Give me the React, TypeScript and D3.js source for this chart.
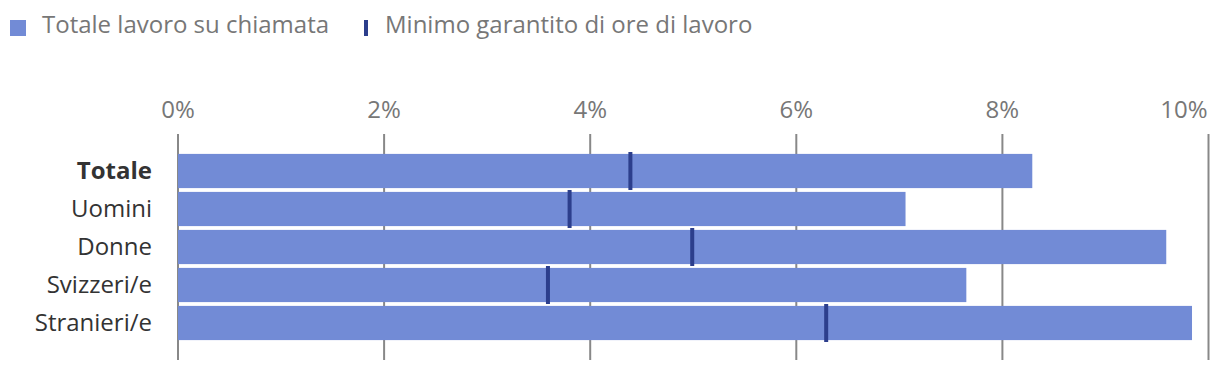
import React from 'react';
import { scaleLinear, scaleBand } from 'd3';

const categories = ['Totale', 'Uomini', 'Donne', 'Svizzeri/e', 'Stranieri/e'];
const totale = [8.29, 7.06, 9.59, 7.65, 9.84];
const minimo = [4.39, 3.8, 4.99, 3.59, 6.29];
const ticks = [0, 2, 4, 6, 8, 10];
const legendLabels = ['Totale lavoro su chiamata', 'Minimo garantito di ore di lavoro'];

const W = 1220;
const H = 372;
const font = '"Open Sans", "Noto Sans", sans-serif';
const fs = 24;
const barColor = '#728bd6';
const markColor = '#2c3e8c';

export default function App() {
  const x = scaleLinear().domain([0, 10]).range([178, 1208.5]);
  const y = scaleBand()
    .domain(categories)
    .range([152, 342])
    .paddingInner(0.1)
    .paddingOuter(0.05);
  const step = y.step();

  return (
    <svg
      width={W}
      height={H}
      style={{ position: 'absolute', left: 0, top: 0, fontFamily: font }}
    >
      {/* legend */}
      <rect x={10} y={20} width={16} height={16} fill={barColor} />
      <text x={42} y={33} fontSize={fs} fill="#777">
        {legendLabels[0]}
      </text>
      <rect x={364} y={20} width={4} height={16} fill={markColor} />
      <text x={385} y={33} fontSize={fs} fill="#777">
        {legendLabels[1]}
      </text>

      {/* grid + tick labels */}
      {ticks.map((t, i) => (
        <g key={t}>
          <line
            x1={x(t)}
            x2={x(t)}
            y1={134}
            y2={360}
            stroke="#888"
            strokeWidth={2}
          />
          <text
            x={i === ticks.length - 1 ? x(t) - 1 : x(t)}
            y={118}
            fontSize={fs}
            fill="#777"
            textAnchor={i === ticks.length - 1 ? 'end' : 'middle'}
          >
            {t}%
          </text>
        </g>
      ))}

      {/* bars */}
      {categories.map((c, i) => (
        <rect
          key={c}
          x={x(0)}
          y={y(c)}
          width={x(totale[i]) - x(0)}
          height={y.bandwidth()}
          fill={barColor}
        />
      ))}

      {/* minimo markers */}
      {categories.map((c, i) => (
        <rect
          key={c}
          x={x(minimo[i]) - 2}
          y={(y(c) as number) + y.bandwidth() / 2 - step / 2}
          width={4}
          height={step}
          fill={markColor}
        />
      ))}

      {/* category labels */}
      {categories.map((c, i) => (
        <text
          key={c}
          x={152}
          y={(y(c) as number) + y.bandwidth() / 2}
          dy="0.35em"
          fontSize={fs}
          fill="#333"
          fontWeight={i === 0 ? 700 : 400}
          textAnchor="end"
        >
          {c}
        </text>
      ))}
    </svg>
  );
}
